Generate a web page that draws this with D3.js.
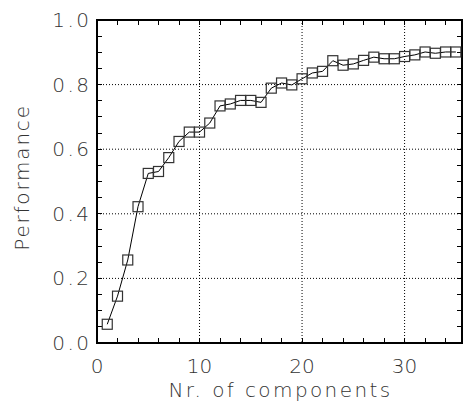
<!DOCTYPE html>
<html><head><meta charset="utf-8">
<script src="https://cdn.jsdelivr.net/npm/d3@7"></script>
<style>body{margin:0;background:#fff}svg{display:block}</style>
</head><body>
<script>
const components = [1,2,3,4,5,6,7,8,9,10,11,12,13,14,15,16,17,18,19,20,21,22,23,24,25,26,27,28,29,30,31,32,33,34,35];
const performance = [0.058,0.145,0.257,0.422,0.525,0.531,0.574,0.624,0.653,0.653,0.681,0.734,0.740,0.751,0.751,0.745,0.789,0.805,0.799,0.818,0.836,0.841,0.874,0.860,0.864,0.875,0.885,0.880,0.880,0.887,0.892,0.901,0.897,0.901,0.901];
const xTicks = [0,10,20,30];
const yTicks = [0.0,0.2,0.4,0.6,0.8,1.0];
const xTitle = "Nr. of components";
const yTitle = "Performance";

const W=467,H=406, L=97, R=462, T=20, B=343;
const svg=d3.select("body").append("svg").attr("width",W).attr("height",H);
const x=d3.scaleLinear().domain([0,35.6]).range([L,R]);
const y=d3.scaleLinear().domain([0,1]).range([B,T]);
const font="DejaVu Sans";
const g=svg.append("g");
// grid
g.selectAll(".gx").data(xTicks.filter(d=>d>0)).join("line")
 .attr("x1",d=>x(d)).attr("x2",d=>x(d)).attr("y1",T).attr("y2",B)
 .attr("stroke","#000").attr("stroke-width",1).attr("stroke-dasharray","1,2");
g.selectAll(".gy").data(yTicks.filter(d=>d>0&&d<1)).join("line")
 .attr("y1",d=>y(d)).attr("y2",d=>y(d)).attr("x1",L).attr("x2",R)
 .attr("stroke","#000").attr("stroke-width",1).attr("stroke-dasharray","1,2");
// axes with inward ticks
const xMinor=d3.range(0,36,2), yMinor=d3.range(0,1.0001,0.05);
const ax=svg.append("g").attr("shape-rendering","crispEdges");
ax.append("rect").attr("x",L).attr("y",T).attr("width",R-L).attr("height",B-T).attr("fill","none").attr("stroke","#000").attr("stroke-width",1.6);
ax.selectAll(".xb").data(xMinor).join("line").attr("x1",d=>x(d)).attr("x2",d=>x(d)).attr("y1",B).attr("y2",B-5).attr("stroke","#000");
ax.selectAll(".xt").data(xMinor).join("line").attr("x1",d=>x(d)).attr("x2",d=>x(d)).attr("y1",T).attr("y2",T+5).attr("stroke","#000");
ax.selectAll(".yl").data(yMinor).join("line").attr("y1",d=>y(d)).attr("y2",d=>y(d)).attr("x1",L).attr("x2",L+5).attr("stroke","#000");
ax.selectAll(".yr").data(yMinor).join("line").attr("y1",d=>y(d)).attr("y2",d=>y(d)).attr("x1",R).attr("x2",R-5).attr("stroke","#000");
// tick labels
svg.selectAll(".xl").data(xTicks).join("text").attr("x",d=>x(d)).attr("y",373)
 .attr("text-anchor","middle").attr("font-family",font).attr("font-size",20).attr("font-weight",200).attr("fill","#333")
 .text(d=>d);
svg.selectAll(".ylab").data(yTicks).join("text").attr("x",89).attr("y",d=>y(d)+7)
 .attr("text-anchor","end").attr("font-family",font).attr("font-size",20).attr("font-weight",200).attr("fill","#333")
 .attr("letter-spacing",2.5).attr("dx",2.5)
 .text(d=>d.toFixed(1));
svg.append("text").attr("x",(L+R)/2+1).attr("y",397).attr("text-anchor","middle")
 .attr("font-family",font).attr("font-size",20).attr("font-weight",200).attr("fill","#333").attr("letter-spacing",2.4).text(xTitle);
svg.append("text").attr("transform",`translate(29,${(T+B)/2-4}) rotate(-90)`).attr("text-anchor","middle")
 .attr("font-family",font).attr("font-size",20).attr("font-weight",200).attr("fill","#333").attr("letter-spacing",1.8).text(yTitle);
// line and markers
const pts=components.map((c,i)=>[c,performance[i]]);
svg.append("path").datum(pts).attr("d",d3.line().x(d=>x(d[0])).y(d=>y(d[1])))
 .attr("fill","none").attr("stroke","#000").attr("stroke-width",1);
svg.selectAll(".m").data(pts).join("rect").attr("x",d=>x(d[0])-5).attr("y",d=>y(d[1])-5)
 .attr("width",10).attr("height",10).attr("fill","none").attr("stroke","#333").attr("stroke-width",1.2);
</script>
</body></html>
